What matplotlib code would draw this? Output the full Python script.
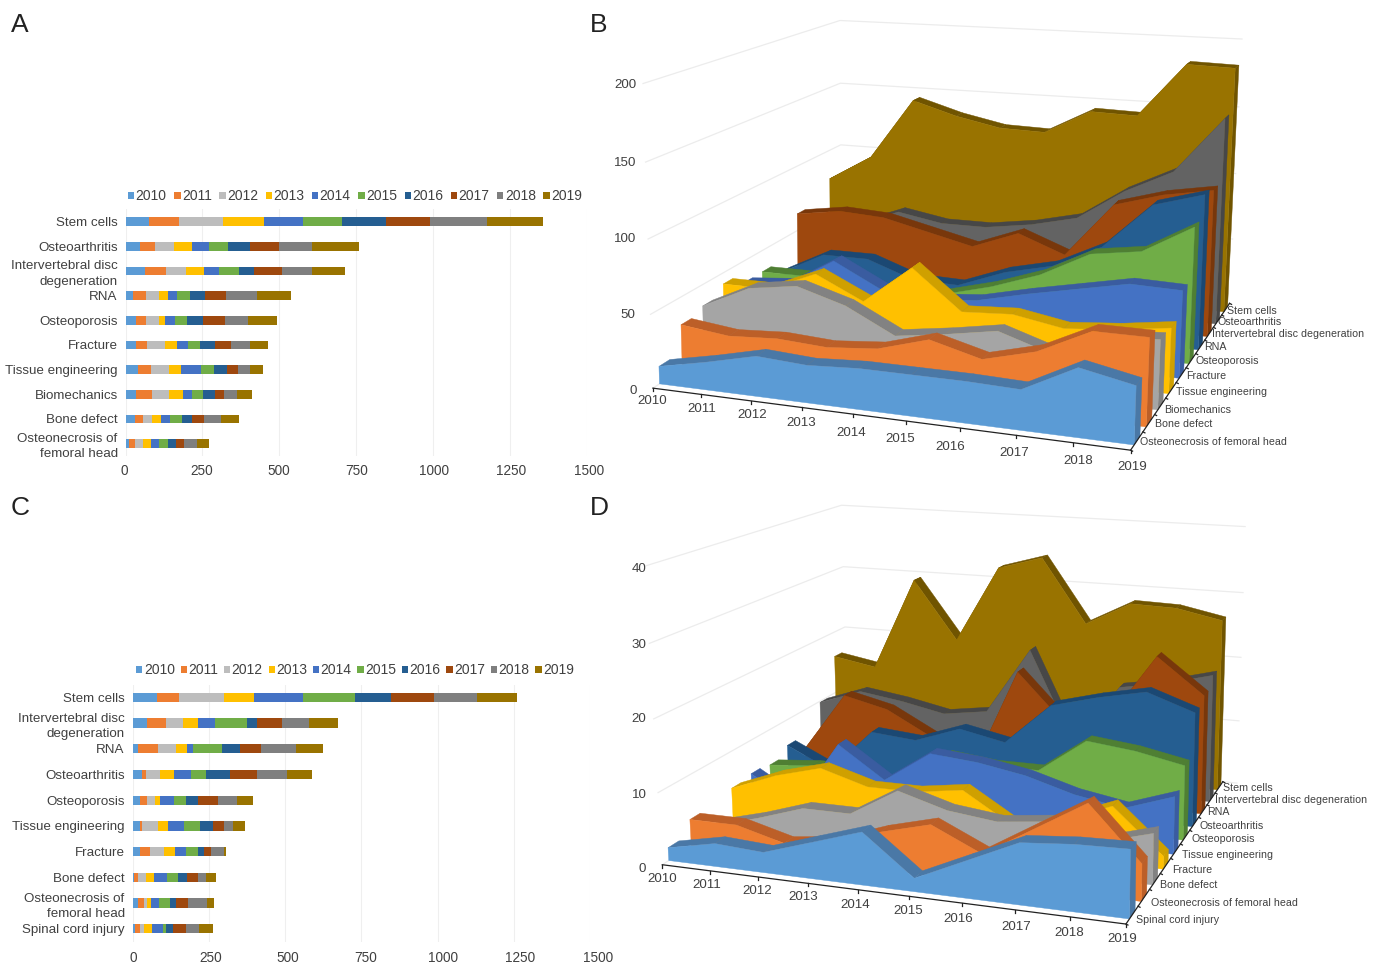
import numpy as np
import matplotlib
matplotlib.use("Agg")
import matplotlib.pyplot as plt
from matplotlib.patches import Polygon

plt.rcParams['font.family'] = ['Liberation Sans', 'DejaVu Sans']

years = ['2010', '2011', '2012', '2013', '2014', '2015', '2016', '2017', '2018', '2019']
colors = ['#5B9BD5', '#ED7D31', '#A5A5A5', '#FFC000', '#4472C4',
          '#70AD47', '#255E91', '#9E480E', '#636363', '#997300']
bar_colors = list(colors)
bar_colors[2] = '#BDBDBD'
bar_colors[8] = '#7F7F7F'
dark = ['#4A78A6', '#BC5F28', '#828282', '#CFA000', '#3A5CA0',
        '#4F7F33', '#1B4873', '#78370B', '#474747', '#705400']

# Panel A / B
cats_a = ['Stem cells', 'Osteoarthritis', 'Intervertebral disc\ndegeneration', 'RNA',
          'Osteoporosis', 'Fracture', 'Tissue engineering', 'Biomechanics',
          'Bone defect', 'Osteonecrosis of\nfemoral head']
a_stem = [77, 97, 144, 134, 127, 126, 144, 143, 183, 182]
a_oa = [46, 50, 63, 57, 57, 62, 70, 93, 110, 151]
a_ivdd = [63, 68, 66, 58, 50, 63, 50, 90, 100, 106]
a_rna = [25, 42, 42, 30, 29, 42, 50, 67, 100, 110]
a_op = [34, 34, 40, 22, 31, 40, 52, 70, 75, 95]
a_fx = [34, 37, 57, 40, 36, 39, 47, 54, 61, 60]
a_te = [42, 42, 56, 40, 67, 40, 42, 36, 39, 44]
a_bm = [35, 51, 56, 46, 29, 34, 40, 29, 44, 46]
a_bd = [31, 27, 29, 27, 30, 40, 31, 40, 57, 57]
a_onfh = [12, 19, 27, 25, 27, 27, 27, 26, 44, 37]
a_rows = [a_stem, a_oa, a_ivdd, a_rna, a_op, a_fx, a_te, a_bm, a_bd, a_onfh]

# Panel C
cats_c = ['Stem cells', 'Intervertebral disc\ndegeneration', 'RNA', 'Osteoarthritis',
          'Osteoporosis', 'Tissue engineering', 'Fracture', 'Bone defect',
          'Osteonecrosis of\nfemoral head', 'Spinal cord injury']
c_stem = [80, 74, 147, 97, 161, 171, 119, 140, 139, 132]
c_ivdd = [49, 61, 56, 49, 54, 105, 34, 82, 88, 97]
c_rna = [19, 65, 57, 39, 19, 95, 60, 66, 115, 89]
c_oa = [30, 14, 47, 44, 56, 49, 80, 89, 96, 84]
c_op = [23, 26, 25, 17, 44, 40, 40, 65, 61, 54]
c_te = [25, 5, 54, 31, 54, 51, 45, 35, 29, 41]
c_fx = [23, 36, 45, 35, 35, 40, 19, 26, 40, 9]
c_bd = [5, 14, 25, 25, 45, 35, 31, 35, 25, 35]
c_onfh = [19, 19, 10, 14, 26, 35, 19, 40, 61, 25]
c_sci = [9, 16, 14, 25, 36, 9, 25, 41, 44, 45]
c_rows = [c_stem, c_ivdd, c_rna, c_oa, c_op, c_te, c_fx, c_bd, c_onfh, c_sci]

# Panel D (as read against its 0-40 axis)
d_stem = [16, 14.8, 29.4, 20.3, 32.2, 34.2, 24.4, 28, 27.8, 26.4]
d_ivdd = [9.8, 12.2, 11.2, 9.8, 10.8, 21, 6.8, 16.4, 17.6, 19.4]
d_rna = [3.8, 13, 11.4, 7.8, 3.8, 19, 12, 13.2, 23, 17.8]
d_oa = [6, 2.8, 9.4, 8.8, 11.2, 9.8, 16, 17.8, 19.2, 16.8]
d_op = [4.6, 5.2, 5, 3.4, 8.8, 8, 8, 13, 12.2, 10.8]
d_te = [5, 1, 10.8, 6.2, 10.8, 10.2, 9, 7, 5.8, 8.2]
d_fx = [4.6, 7.2, 9, 7, 7, 8, 3.8, 5.2, 8, 1.8]
d_bd = [1, 2.8, 5, 5, 9, 7, 6.2, 7, 5, 7]
d_onfh = [3.8, 3.8, 2, 2.8, 5.2, 7, 3.8, 8, 12.2, 5]
d_sci = [1.8, 3.2, 2.8, 5, 7.2, 1.8, 5, 8.2, 8.8, 9]
d_rows = [d_stem, d_ivdd, d_rna, d_oa, d_op, d_te, d_fx, d_bd, d_onfh, d_sci]
names_d = ['Stem cells', 'Intervertebral disc degeneration', 'RNA', 'Osteoarthritis',
           'Osteoporosis', 'Tissue engineering', 'Fracture', 'Bone defect',
           'Osteonecrosis of femoral head', 'Spinal cord injury']
names_b = ['Stem cells', 'Osteoarthritis', 'Intervertebral disc degeneration', 'RNA',
           'Osteoporosis', 'Fracture', 'Tissue engineering', 'Biomechanics',
           'Bone defect', 'Osteonecrosis of femoral head']

W, H = 1377, 965
fig = plt.figure(figsize=(W / 100, H / 100), dpi=100)
TXT = '#404040'


def px_axes(left, top, right, bottom, **kw):
    return fig.add_axes([left / W, 1 - bottom / H, (right - left) / W, (bottom - top) / H], **kw)


def stacked(rows, cats, box, label_box, legend_xy, columnspacing, bar_h, pad_y):
    ax = px_axes(*box)
    ax.patch.set_alpha(0)
    yy = np.arange(len(rows))
    left = np.zeros(len(rows))
    mat = np.array(rows, float)
    handles = []
    for k in range(10):
        h = ax.barh(yy, mat[:, k], left=left, height=bar_h, color=bar_colors[k],
                    linewidth=0, zorder=3, label=years[k])
        handles.append(h)
        left += mat[:, k]
    ax.set_xlim(0, 1500)
    ax.set_ylim(len(rows) - 0.5, -0.5)
    ax.set_xticks(np.arange(0, 1501, 250))
    ax.set_xticklabels([])
    ax.set_yticks(yy)
    ax.set_yticklabels(cats, fontsize=9.6, color=TXT, linespacing=1.35)
    ax.tick_params(length=0)
    ax.tick_params(axis='y', pad=5.6)
    ax.grid(axis='x', color='#EFEFEF', lw=0.8, zorder=0)
    for s in ax.spines.values():
        s.set_visible(False)
    lab = px_axes(*label_box)
    lab.patch.set_alpha(0)
    lab.set_xlim(0, 1500)
    lab.set_yticks([])
    lab.set_xticks(np.arange(0, 1501, 250))
    lab.tick_params(length=0, labelsize=9.8, labelcolor=TXT, pad=pad_y)
    for s in lab.spines.values():
        s.set_visible(False)
    fig.legend(handles=handles, loc='center',
               bbox_to_anchor=(legend_xy[0] / W, 1 - legend_xy[1] / H), ncol=10, frameon=False,
               fontsize=10, handlelength=0.45, handleheight=0.45, handletextpad=0.1,
               columnspacing=columnspacing, labelcolor=TXT, borderpad=0, borderaxespad=0)


stacked(a_rows, cats_a, (125.5, 209.3, 586.6, 456), (124, 209.3, 589, 456), (355, 196.5), 0.55, 0.354, 6)
stacked(c_rows, cats_c, (132.5, 684.5, 590, 941.7), (133, 684.5, 598, 941.7), (355, 670.5), 0.42, 0.36, 7)


def fit_camera(anchors):
    rows = []
    for (u, d, h), (x, y) in anchors:
        X = [u, d, h, 1.0]
        rows.append(X + [0, 0, 0, 0] + [-x * c for c in X])
        rows.append([0, 0, 0, 0] + X + [-y * c for c in X])
    return np.linalg.svd(np.array(rows))[2][-1].reshape(3, 4)


def area3d(ax, rows, names, anchors, vmax, ticks, tick_pos, year_pos, name_pos,
           near=0.28, far=0.75, wall_u=1.0):
    P = fit_camera(anchors)

    def pr(u, d, v):
        q = P @ np.array([u, d, v / vmax, 1.0])
        return q[0] / q[2], q[1] / q[2]

    # walls
    for t in ticks:
        ax.plot(*zip(pr(0, 0, t), pr(0, 1, t), pr(wall_u, 1, t)), color='#ECECEC', lw=0.9, zorder=1)
    # areas, back to front
    z = 2
    n = len(rows)
    for idx, row in enumerate(rows):
        j = n - 1 - idx
        d0, d1 = (j + near) / n, (j + far) / n
        uu = np.arange(10) / 9
        c, e = colors[j], dark[j]
        cap = [pr(1, d0, 0), pr(1, d0, row[-1]), pr(1, d1, row[-1]), pr(1, d1, 0)]
        ax.add_patch(Polygon(cap, facecolor=e, edgecolor=e, lw=0.3, zorder=z))
        for i in range(9):
            band = [pr(uu[i], d0, row[i]), pr(uu[i + 1], d0, row[i + 1]),
                    pr(uu[i + 1], d1, row[i + 1]), pr(uu[i], d1, row[i])]
            ax.add_patch(Polygon(band, facecolor=e, edgecolor=e, lw=0.3, zorder=z))
        face = [pr(uu[0], d0, 0)] + [pr(uu[i], d0, row[i]) for i in range(10)] + [pr(1, d0, 0)]
        ax.add_patch(Polygon(face, facecolor=c, edgecolor=c, lw=0.3, zorder=z + 0.5))
        z += 1
    # axes
    ax.plot(*zip(pr(0, 0, 0), pr(1, 0, 0), pr(1, 1, 0)), color='#222222', lw=0.9, zorder=z)
    for i in range(10):
        a = pr(i / 9, 0, 0)
        ax.plot([a[0], a[0]], [a[1], a[1] + 3], color='#222222', lw=0.9, zorder=z)
    for j in range(11):
        a = pr(1, j / 10, 0)
        ax.plot([a[0], a[0] + 2], [a[1], a[1] + 1], color='#222222', lw=0.9, zorder=z)
    for t, (x, y) in zip(ticks, tick_pos):
        ax.text(x, y + 1.5, str(t), ha='center', va='center', fontsize=9.6, color=TXT)
    for lab, (x, y) in zip(years, year_pos):
        ax.text(x, y + 1.5, lab, ha='center', va='center', fontsize=9.6, color=TXT)
    for lab, (x, y) in zip(names, name_pos):
        ax.text(x, y + 1, lab, ha='left', va='center', fontsize=7.7, color=TXT)


canvas = fig.add_axes([0, 0, 1, 1], zorder=-1)
canvas.set_xlim(0, W)
canvas.set_ylim(H, 0)
canvas.axis('off')

anchors_b = [((0, 0, 0), (653.5, 387)), ((1, 0, 0), (1130, 452)), ((1, 1, 0), (1230, 301)),
             ((0, 1, 0), (841, 267)), ((0, 0, 1), (643, 83)), ((0, 1, 1), (840, 20)),
             ((1, 1, 1), (1242, 40))]
area3d(canvas, a_rows, names_b, anchors_b, 200, [0, 50, 100, 150, 200],
       [(633, 390), (628, 314), (625, 237), (625, 161), (625, 84)],
       [(652, 400), (702, 407), (752, 414), (801, 421), (851, 431),
        (900, 438), (950, 445), (1014, 452), (1078, 459), (1132, 466)],
       [(1227, 310), (1218, 321), (1212, 333), (1204, 346), (1195, 360),
        (1186, 375), (1176, 391), (1164, 409), (1155, 423), (1140, 441)])

anchors_d = [((0, 0, 0), (662, 864)), ((1, 0, 0), (1125, 926)), ((1, 1, 0), (1223, 779)),
             ((0, 1, 0), (849, 746)), ((0, 0, 1), (646, 565)), ((0, 1, 1), (840, 505)),
             ((1, 1, 1), (1231, 527))]
area3d(canvas, d_rows, names_d, anchors_d, 40, [0, 10, 20, 30, 40],
       [(642, 868), (639, 793), (639, 718), (639, 643), (639, 568)],
       [(662, 878), (707, 883), (757, 890), (803, 895), (855, 903),
        (908, 910), (958, 917), (1016, 925), (1069, 931), (1122, 938)],
       [(1223, 787), (1215, 799), (1207, 811), (1200, 825), (1191, 838),
        (1182, 854), (1172, 869), (1160, 884), (1151, 902), (1136, 919)],
       wall_u=1.035)

for letter, x, y in [('A', 20, 25), ('B', 599, 25), ('C', 20, 508), ('D', 599, 508)]:
    canvas.text(x, y, letter, ha='center', va='center', fontsize=19, color='#222222')

fig.savefig('out.png', dpi=100)
